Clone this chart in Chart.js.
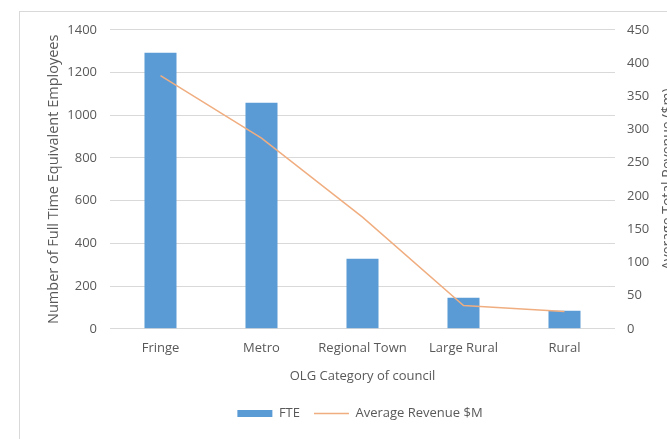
<!DOCTYPE html>
<html>
<head>
<meta charset="utf-8">
<script src="https://cdn.jsdelivr.net/npm/chart.js@4.4.1/dist/chart.umd.min.js"></script>
<style>
  html, body { margin: 0; padding: 0; background: #fff; overflow: hidden; width: 667px; height: 439px; }
  #box { position: absolute; left: 19px; top: 11px; width: 700px; height: 440px; border: 1px solid #d9d9d9; }
  #chart { position: absolute; left: 0; top: -3px; }
</style>
</head>
<body>
<div id="box"><canvas id="chart" width="680" height="430"></canvas></div>
<script>
var categories = ['Fringe', 'Metro', 'Regional Town', 'Large Rural', 'Rural'];
var fteValues = [1292, 1058, 328, 145, 84];
var revenueValues = [381, 287, 168, 35, 26];
var leftTicks = [0, 200, 400, 600, 800, 1000, 1200, 1400];
var rightTicks = [0, 50, 100, 150, 200, 250, 300, 350, 400, 450];

var textColor = '#595959';
var fontFamily = "'Open Sans', sans-serif";
Chart.defaults.font.family = fontFamily;
Chart.defaults.font.size = 13;
Chart.defaults.color = textColor;

// right axis title reads bottom-to-top like the left one
var rightTitle = {
  id: 'rightTitle',
  afterDraw: function(chart) {
    var ctx = chart.ctx;
    var area = chart.chartArea;
    ctx.save();
    ctx.translate(648, (area.top + area.bottom) / 2);
    ctx.rotate(-Math.PI / 2);
    ctx.fillStyle = textColor;
    ctx.font = '14px ' + fontFamily;
    ctx.textAlign = 'center';
    ctx.textBaseline = 'middle';
    ctx.fillText('Average Total Revenue ($m)', 0, 0);
    ctx.restore();
  }
};

function plain(v) { return String(v); }

var ctx = document.getElementById('chart');
var chart = new Chart(ctx, {
  type: 'bar',
  data: {
    labels: categories,
    datasets: [
      {
        type: 'line',
        label: 'Average Revenue $M',
        data: revenueValues,
        yAxisID: 'y1',
        borderColor: '#F0AE80',
        backgroundColor: '#F0AE80',
        borderWidth: 1.5,
        pointRadius: 0,
        pointStyle: 'line',
        tension: 0,
        order: 0
      },
      {
        label: 'FTE',
        data: fteValues,
        yAxisID: 'y',
        backgroundColor: '#5B9BD5',
        borderWidth: 0,
        categoryPercentage: 1,
        barPercentage: 0.317,
        pointStyle: 'rect',
        order: 1
      }
    ]
  },
  options: {
    responsive: false,
    animation: { duration: 0 },
    layout: { padding: { top: 4, left: 0, right: 0, bottom: 9 } },
    plugins: {
      legend: {
        position: 'bottom',
        reverse: true,
        labels: {
          usePointStyle: true,
          pointStyleWidth: 35,
          boxHeight: 7,
          padding: 14,
          color: textColor,
          font: { size: 13 }
        }
      },
      tooltip: { enabled: false }
    },
    scales: {
      x: {
        grid: { display: false, drawTicks: false },
        border: { display: false },
        ticks: { padding: 12 },
        title: { display: true, text: 'OLG Category of council', padding: { top: 0, bottom: 9 } }
      },
      y: {
        position: 'left',
        min: 0,
        max: 1400,
        afterBuildTicks: function(axis) { axis.ticks = leftTicks.map(function(v) { return { value: v }; }); },
        afterFit: function(axis) { axis.width = 90; },
        grid: { color: '#d9d9d9', drawTicks: false },
        border: { display: false },
        ticks: { padding: 13, callback: plain },
        title: {
          display: true,
          text: 'Number of Full Time Equivalent Employees',
          font: { size: 14.5 },
          padding: { top: 25, bottom: 0 }
        }
      },
      y1: {
        position: 'right',
        min: 0,
        max: 450,
        afterBuildTicks: function(axis) { axis.ticks = rightTicks.map(function(v) { return { value: v }; }); },
        afterFit: function(axis) { axis.width = 85; },
        grid: { display: false, drawTicks: false },
        border: { display: false },
        ticks: { padding: 12, callback: plain }
      }
    }
  },
  plugins: [rightTitle]
});
</script>
</body>
</html>
